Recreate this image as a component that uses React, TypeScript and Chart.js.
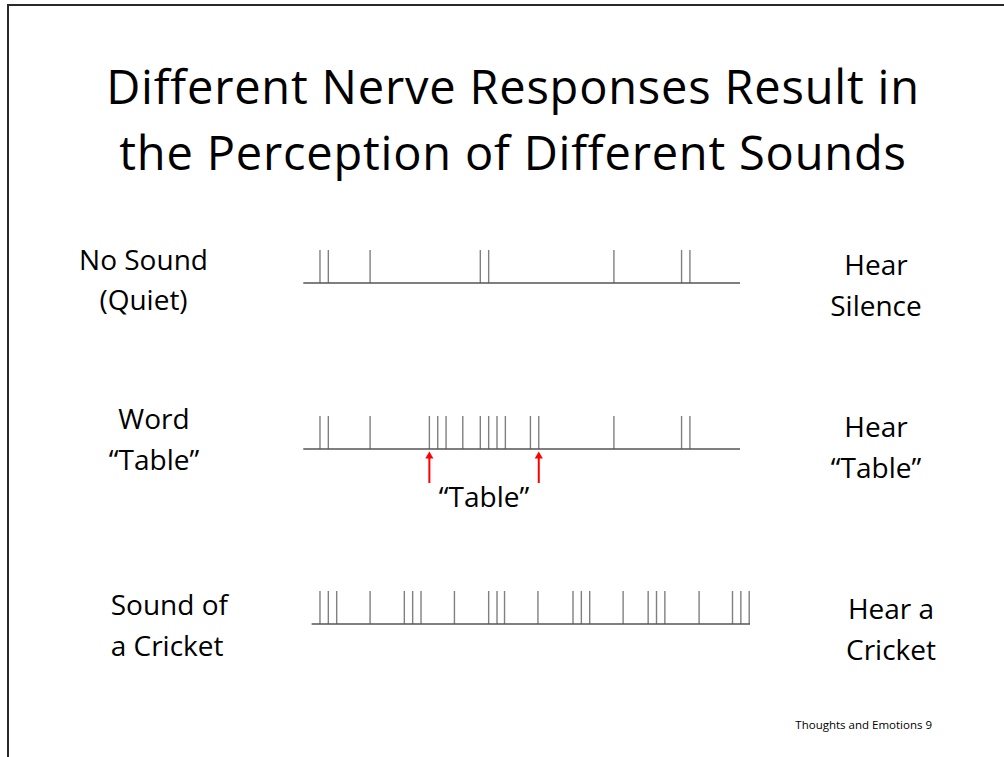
import React, { useEffect, useRef } from "react";
import { Chart, registerables } from "chart.js";

Chart.register(...registerables);

// ---- Data (time in arbitrary units along each spike train) ----
const quietSpikes = [2.0, 3.0, 8.0, 21.2, 22.2, 37.2, 45.3, 46.3];
const tableSpikes = [2.0, 3.0, 8.0, 15.1, 16.1, 17.1, 19.1, 21.2, 22.2, 23.2, 24.2, 27.2, 28.2, 37.2, 45.3, 46.3];
const tableArrows = [15.1, 28.2];
const cricketSpikes = [2.0, 3.0, 4.0, 8.0, 12.1, 13.1, 14.1, 18.1, 22.2, 23.2, 24.1, 28.1, 32.3, 33.3, 34.3, 38.3, 41.3, 42.3, 43.3, 47.4, 51.4, 52.4, 53.4];
const quietTrace = [0, 52.3];
const tableTrace = [0, 52.3];
const cricketTrace = [1.0, 53.5];

const titleLines = ["Different Nerve Responses Result in", "the Perception of Different Sounds"];
const leftLabels = [["No Sound", "(Quiet)"], ["Word", "\u201CTable\u201D"], ["Sound of", "a Cricket"]];
const rightLabels = [["Hear", "Silence"], ["Hear", "\u201CTable\u201D"], ["Hear a", "Cricket"]];
const arrowLabel = "\u201CTable\u201D";
const footer = "Thoughts and Emotions 9";

// ---- layout ----
const FONT = "'Open Sans', 'Noto Sans', sans-serif";
const X_MIN = -1.59;
const X_MAX = 55.89;
const CANVAS_LEFT = 290;
const CANVAS_W = 480;
const SPIKE_PX = 33;
const ABOVE_PX = 40;

function baselineTop(baseline: number, fs: number, lh: number) {
  return baseline - ((lh - 1.362 * fs) / 2 + 1.069 * fs);
}

type RowProps = {
  spikes: number[];
  trace: number[];
  arrows?: number[];
  baseline: number;
  below: number;
};

function SpikeRow({ spikes, trace, arrows, baseline, below }: RowProps) {
  const ref = useRef<HTMLCanvasElement | null>(null);
  useEffect(() => {
    if (!ref.current) return;
    const spikeData: any[] = [];
    spikes.forEach((t) => {
      spikeData.push({ x: t, y: 0 }, { x: t, y: 1 }, { x: t, y: null });
    });
    const datasets: any[] = [
      {
        data: trace.map((t) => ({ x: t, y: 0 })),
        borderColor: "#555555",
        borderWidth: 1.6,
        pointRadius: 0,
      },
      {
        data: spikeData,
        borderColor: "#808080",
        borderWidth: 1.4,
        pointRadius: 0,
        spanGaps: false,
      },
    ];
    (arrows || []).forEach((t) => {
      datasets.push({
        data: [
          { x: t, y: -0.215 },
          { x: t, y: -1.03 },
        ],
        borderColor: "#ff0000",
        backgroundColor: "#ff0000",
        borderWidth: 2,
        pointStyle: "triangle",
        pointRadius: [4.7, 0],
        pointBorderWidth: 0,
      });
    });
    const chart = new Chart(ref.current, {
      type: "line",
      data: { datasets },
      options: {
        animation: false,
        responsive: false,
        maintainAspectRatio: false,
        layout: { padding: 0, autoPadding: false },
        plugins: { legend: { display: false }, tooltip: { enabled: false } },
        scales: {
          x: { type: "linear", min: X_MIN, max: X_MAX, display: false },
          y: { type: "linear", min: -below / SPIKE_PX, max: ABOVE_PX / SPIKE_PX, display: false },
        },
        elements: { line: { tension: 0 } },
      },
    });
    return () => chart.destroy();
  }, []);
  const h = ABOVE_PX + below;
  return (
    <canvas
      ref={ref}
      width={CANVAS_W}
      height={h}
      style={{ position: "absolute", left: CANVAS_LEFT, top: baseline - ABOVE_PX, width: CANVAS_W, height: h }}
    />
  );
}

function TextBlock({
  lines,
  x,
  baseline,
  fs,
  lh,
  align,
  ls = 0,
}: {
  lines: string[];
  x: number;
  baseline: number;
  fs: number;
  lh: number;
  align: "center" | "left" | "right";
  ls?: number;
}) {
  const w = 1000;
  const left = align === "center" ? x - w / 2 : align === "left" ? x : x - w;
  return (
    <div
      style={{
        position: "absolute",
        left,
        width: w,
        top: baselineTop(baseline, fs, lh),
        fontFamily: FONT,
        fontSize: fs,
        lineHeight: lh + "px",
        letterSpacing: ls,
        textAlign: align,
        color: "#000",
        whiteSpace: "nowrap",
      }}
    >
      {lines.map((l, i) => (
        <div key={i}>{l}</div>
      ))}
    </div>
  );
}

export default function App() {
  return (
    <div
      style={{
        position: "fixed",
        left: 0,
        top: 0,
        width: 1004,
        height: 757,
        background: "#ffffff",
        overflow: "hidden",
      }}
    >
      <div style={{ position: "absolute", left: 7, top: 4, width: 1004, height: 2, background: "#2a2a2a" }} />
      <div style={{ position: "absolute", left: 7, top: 4, width: 2, height: 760, background: "#2a2a2a" }} />

      <TextBlock lines={titleLines} x={513} baseline={104.3} fs={47} lh={66} ls={0.8} align="center" />

      <TextBlock lines={leftLabels[0]} x={143.5} baseline={270} fs={28} lh={40} align="center" />
      <TextBlock lines={rightLabels[0]} x={876} baseline={275} fs={28} lh={41} align="center" />

      <TextBlock lines={leftLabels[1]} x={154} baseline={429.3} fs={28} lh={41} align="center" />
      <TextBlock lines={rightLabels[1]} x={876} baseline={437} fs={28} lh={41} align="center" />
      <TextBlock lines={[arrowLabel]} x={484} baseline={506.7} fs={28} lh={40} align="center" />

      <TextBlock lines={leftLabels[2]} x={110.7} baseline={615} fs={28} lh={41} align="left" />
      <TextBlock lines={rightLabels[2]} x={891} baseline={619} fs={28} lh={41} align="center" />

      <TextBlock lines={[footer]} x={932} baseline={729} fs={11.5} lh={16} align="right" />

      <SpikeRow spikes={quietSpikes} trace={quietTrace} baseline={282.7} below={20} />
      <SpikeRow spikes={tableSpikes} trace={tableTrace} arrows={tableArrows} baseline={449.3} below={45} />
      <SpikeRow spikes={cricketSpikes} trace={cricketTrace} baseline={624} below={20} />
    </div>
  );
}
